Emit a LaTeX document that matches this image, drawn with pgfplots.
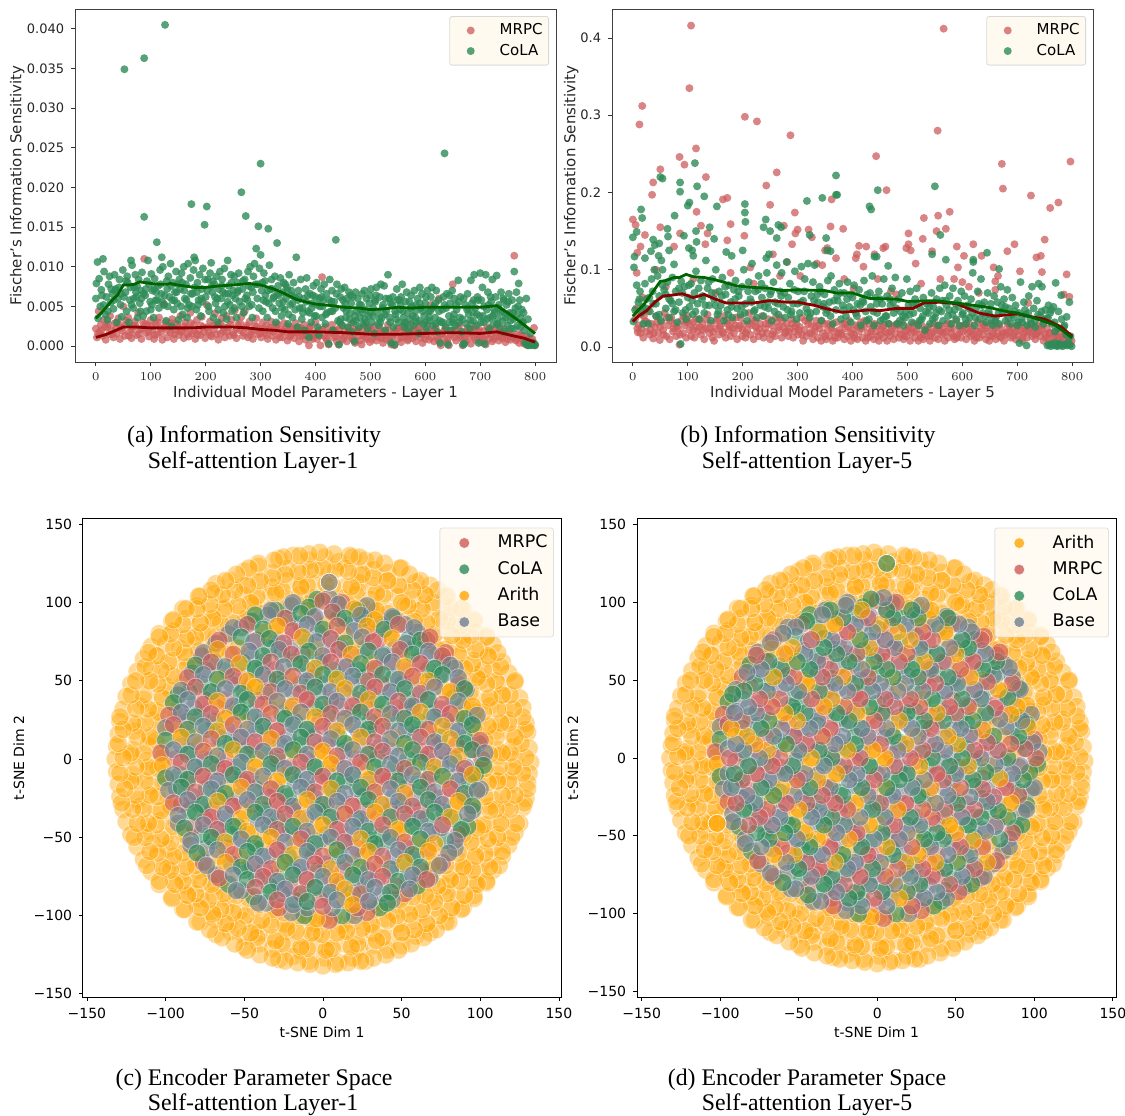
\documentclass[border=0pt]{standalone}
\usepackage{pgfplots}
\usepackage{pgfplotstable}
\usepackage{fontspec}
\pgfplotsset{compat=1.18}
\setmainfont{DejaVu Sans}
\newfontfamily\capfont{Liberation Serif}
\definecolor{mrpc}{HTML}{CD5C5C}
\definecolor{cola}{HTML}{2E8B57}
\definecolor{arith}{HTML}{FFA500}
\definecolor{base}{HTML}{708090}
\definecolor{legbg}{HTML}{FFFAF0}
\definecolor{dkred}{HTML}{8B0000}
\definecolor{dkgreen}{HTML}{006400}
\pgfplotstableread{
x y
0 22
2 11
5 44
7 18
9 27
12 13
15 33
18 8
21 24
24 15
26 38
29 20
32 11
35 29
38 16
41 35
44 9
47 23
50 50
53 13
56 27
59 36
62 18
65 10
68 25
71 31
74 14
77 42
80 21
83 9
86 30
88 110
91 17
94 26
97 12
100 33
103 20
106 9
109 28
112 15
115 36
118 22
121 8
124 53
127 30
130 11
133 25
136 17
139 34
142 9
145 21
148 28
151 14
154 38
157 19
160 10
163 30
166 23
169 12
172 42
175 16
178 27
181 9
184 33
187 20
190 14
193 37
196 24
199 10
202 52
205 18
208 31
211 12
214 26
217 41
220 15
223 8
226 29
229 35
232 19
235 11
238 38
241 24
244 13
247 33
250 17
253 45
256 10
259 27
262 20
265 37
268 13
271 44
274 23
277 11
280 31
283 18
286 9
289 26
292 35
295 15
298 22
301 11
304 30
307 17
310 26
313 9
316 20
319 31
322 13
325 24
328 8
331 28
334 16
337 21
340 11
343 29
346 18
349 7
352 25
355 14
358 22
361 10
364 29
367 17
370 6
373 23
376 13
379 27
382 8
385 19
388 1
391 25
394 11
397 16
400 30
403 9
406 21
409 1
412 87
415 13
418 24
421 7
424 2
427 18
430 27
433 11
436 20
439 6
442 2
445 15
448 26
451 10
454 19
457 6
460 23
463 13
466 28
469 8
472 4
475 17
478 22
481 7
484 2
487 14
490 26
493 9
496 18
499 5
502 21
505 12
508 25
511 7
514 16
517 23
520 10
523 4
526 19
529 13
532 27
535 7
538 2
541 15
544 1
547 22
550 9
553 18
556 5
559 25
562 12
565 20
568 7
571 15
574 28
577 10
580 21
583 6
586 17
589 24
592 11
595 4
598 19
601 14
604 26
607 8
610 52
613 18
616 6
619 23
622 12
625 60
628 1
631 16
634 9
637 22
640 5
643 1
646 14
650 78
653 20
656 7
659 15
662 26
665 10
668 1
671 18
674 6
677 23
680 12
683 3
686 17
689 25
692 8
695 14
698 21
701 5
704 11
707 19
710 2
713 24
716 9
719 15
722 6
725 20
728 12
731 26
734 7
737 17
740 10
743 22
746 5
749 14
752 18
755 8
758 11
762 114
765 7
768 15
771 4
774 10
777 13
780 3
783 8
786 1
789 5
792 2
795 9
798 23
800 1
4 16
10 20
17 24
23 28
30 15
36 22
43 27
49 19
55 32
60 13
66 21
72 26
78 15
84 22
90 28
96 18
101 25
107 14
113 30
119 17
125 24
131 20
137 29
143 15
149 24
155 18
161 25
167 15
173 29
179 19
185 14
191 26
197 18
203 24
209 14
215 21
221 27
227 16
233 24
239 18
245 27
251 14
257 22
263 29
269 17
275 26
281 14
287 20
293 25
299 16
305 22
311 14
317 23
323 18
329 25
335 11
341 19
347 24
353 12
359 17
365 22
371 13
377 20
383 14
389 23
395 9
401 17
407 13
413 21
419 10
425 16
431 20
437 12
443 22
449 8
455 14
461 18
467 10
473 21
479 13
485 19
491 11
497 24
503 8
509 16
515 11
521 18
527 9
533 20
539 12
545 17
551 22
557 11
563 16
569 9
575 19
581 13
587 21
593 15
599 9
605 18
611 11
617 21
623 8
629 15
635 20
641 10
647 19
653 11
659 23
665 13
671 9
677 16
683 21
689 11
695 19
701 13
707 8
713 15
719 21
725 9
731 17
737 12
743 16
749 9
755 15
761 12
767 9
773 14
779 7
785 12
791 9
797 4
}\aM
\pgfplotstableread{
x y
0 60
1 79
3 106
4 35
6 85
8 50
10 71
13 110
15 94
17 40
19 62
21 33
23 78
25 88
27 55
30 66
32 47
34 90
36 72
38 30
40 60
43 84
45 52
47 37
49 96
52 349
54 68
56 44
58 80
60 30
62 58
64 108
66 102
68 48
70 74
72 90
74 62
76 36
78 84
80 54
82 70
84 93
86 38
88 363
88 163
90 64
92 44
95 108
97 78
99 56
101 91
103 70
105 36
107 85
109 58
111 131
113 76
115 48
117 96
119 66
120 112
122 100
124 52
126 405
128 32
130 72
132 88
134 62
136 104
138 25
140 80
142 46
144 68
146 94
148 54
150 33
152 84
154 72
156 92
158 40
160 100
162 60
164 78
166 36
168 104
170 52
172 86
174 179
176 66
178 96
179 112
181 108
183 46
185 80
187 58
189 90
191 38
193 72
195 98
198 153
200 62
202 176
204 84
206 44
208 92
210 105
212 68
214 36
216 78
218 54
220 88
222 30
224 72
226 94
228 60
230 84
232 42
234 98
236 66
238 34
240 108
242 76
244 52
246 90
248 44
250 70
252 88
254 60
256 36
258 80
260 92
262 56
265 194
267 72
269 42
271 84
273 164
275 64
277 94
279 50
281 100
283 74
285 36
287 88
289 104
292 123
294 60
296 151
298 98
300 230
300 115
302 70
304 44
306 92
308 82
310 56
312 36
314 148
316 102
318 72
320 84
322 48
324 62
326 88
328 30
330 130
332 76
334 54
336 86
338 38
340 68
342 80
344 46
346 60
348 74
350 28
352 90
354 52
356 70
358 36
360 80
362 62
365 112
367 24
369 70
371 48
373 84
375 34
378 60
380 20
382 72
384 86
386 44
388 11
390 66
392 30
394 54
396 76
398 38
400 62
402 80
404 24
406 14
408 50
410 72
412 36
414 58
416 78
418 28
420 66
424 3
426 84
428 44
430 70
432 20
434 56
437 134
439 78
441 32
443 2
445 62
447 72
449 26
451 48
453 74
455 36
457 60
459 24
461 68
463 42
465 54
467 18
469 30
471 6
473 68
475 44
477 60
479 24
481 36
483 52
485 66
487 28
489 70
491 46
493 60
495 22
497 38
499 64
501 72
503 30
505 48
507 16
509 56
511 74
513 42
515 26
517 62
519 78
521 36
523 52
525 76
527 20
529 44
532 90
534 60
536 30
538 4
540 52
542 24
544 2
546 40
548 72
550 58
552 30
554 46
556 62
558 78
560 36
562 24
564 56
566 68
568 42
570 20
572 34
574 64
576 50
578 26
580 70
582 44
584 30
586 60
588 16
590 74
592 48
594 66
596 28
598 38
600 54
602 22
604 70
606 44
608 32
610 62
612 74
614 26
616 50
618 36
620 70
622 18
624 58
627 4
629 30
631 46
633 62
635 243
637 24
639 66
641 2
643 38
645 54
647 20
649 70
651 34
653 60
655 26
657 46
660 83
662 30
664 62
666 18
669 2
671 3
673 52
675 28
677 66
679 40
681 22
683 83
685 54
687 32
689 90
691 48
693 26
695 62
697 4
699 38
700 92
702 58
704 74
706 30
708 3
710 90
712 46
714 68
716 22
718 36
720 56
722 84
724 28
726 42
728 62
730 89
732 34
734 52
736 24
738 68
740 44
742 60
744 18
746 36
748 52
750 26
752 66
754 42
756 22
758 58
760 34
762 94
764 48
766 68
768 26
770 79
772 58
774 36
776 46
778 30
780 20
782 4
784 60
785 2
787 34
788 1
790 3
791 16
793 1
795 2
797 4
799 1
800 2
14 52
28 72
33 58
42 74
51 62
57 88
63 74
69 60
75 76
81 44
87 66
93 82
100 46
106 72
112 58
118 78
125 64
131 50
137 76
143 58
149 78
155 50
161 70
167 48
173 66
180 74
186 52
192 60
199 84
205 50
211 76
217 62
223 46
229 76
235 50
241 66
247 80
253 48
259 70
266 50
272 60
278 76
284 52
291 78
297 48
303 80
309 64
315 54
321 72
327 44
333 64
339 48
345 78
351 40
357 64
363 46
370 62
376 48
383 56
389 42
395 64
401 38
407 60
413 50
419 40
425 58
431 44
438 66
444 30
450 58
456 44
462 34
468 62
474 32
480 52
486 42
492 30
498 54
504 38
510 64
516 34
522 48
528 60
535 36
541 62
547 34
553 58
559 44
565 28
571 56
577 38
583 52
589 32
595 44
601 62
607 36
613 48
619 28
625 44
632 30
638 48
644 64
650 30
656 52
663 36
670 60
676 46
682 32
688 58
694 40
701 30
707 50
713 34
719 62
725 46
731 28
737 42
743 58
749 40
755 32
761 22
767 40
773 24
779 42
11 64
22 44
35 70
46 66
55 82
65 52
73 68
83 60
91 72
102 52
110 68
121 56
129 82
139 58
147 68
157 80
165 58
175 50
184 68
194 56
203 70
213 82
221 60
231 68
240 56
249 64
258 68
268 82
276 58
286 68
295 78
305 58
313 70
323 60
331 66
341 56
349 70
358 54
368 58
377 42
386 64
393 48
403 52
411 62
421 42
429 56
436 48
446 34
454 54
464 64
472 38
482 46
490 34
500 42
508 58
518 30
526 40
537 54
545 44
555 52
563 30
573 48
582 36
590 54
600 30
609 44
618 54
626 32
635 52
644 30
652 40
661 56
668 34
678 48
687 42
696 58
705 38
715 52
723 38
733 48
741 32
751 56
760 42
769 50
777 30
}\aC
\pgfplotstableread{
x y
0 165
5 158
8 122
12 288
14 130
17 312
22 145
35 197
37 213
50 230
50 155
85 246
94 236
86 147
103 335
106 416
115 257
116 175
124 157
132 133
133 220
136 147
164 191
172 193
172 138
178 159
204 298
203 144
226 292
243 209
250 184
262 226
275 157
287 274
295 174
296 147
300 152
290 133
320 152
326 142
362 191
360 156
383 153
370 115
350 125
354 128
412 131
408 120
406 115
425 130
443 247
462 203
460 130
456 128
440 120
498 128
502 147
502 133
506 125
530 167
555 280
556 170
553 150
566 412
570 153
577 175
528 140
590 130
592 103
603 118
620 133
635 118
657 103
672 237
674 205
682 124
695 133
705 98
725 196
735 116
743 118
750 139
760 180
745 97
775 187
790 94
797 240
785 68
795 65
720 57
660 85
665 92
600 84
7 96
18 64
42 100
60 78
75 130
110 88
150 70
178 96
214 103
220 82
255 120
268 92
281 110
305 92
335 108
345 106
385 88
402 76
420 104
446 88
470 72
480 68
515 108
525 82
545 124
560 88
585 88
612 78
630 70
660 74
4 36
6 50
9 19
11 28
13 42
16 24
19 12
22 34
25 20
28 46
31 16
34 30
37 11
40 26
43 40
46 18
49 9
52 32
55 22
58 44
61 14
64 28
67 10
70 38
73 20
76 30
79 14
82 24
85 3
88 34
91 18
94 28
97 12
100 40
103 22
106 14
109 32
112 12
115 26
118 20
121 36
124 16
127 30
130 10
133 24
136 42
139 18
142 30
145 12
148 8
151 24
154 36
157 16
160 28
163 20
166 40
169 12
172 30
175 22
178 14
181 34
184 18
187 28
190 10
193 24
196 38
199 14
202 30
205 12
208 22
211 44
214 16
217 28
220 10
223 34
226 20
229 14
232 30
235 40
238 12
241 24
244 18
247 36
250 10
253 28
256 20
259 14
262 32
265 22
268 38
271 12
274 26
277 18
280 30
283 14
286 24
289 36
292 12
295 20
298 30
301 16
304 26
307 38
310 8
313 22
316 14
319 30
322 18
325 28
328 10
331 20
334 34
337 12
340 24
343 8
346 18
349 30
352 10
355 22
358 14
361 28
364 8
367 20
370 32
373 12
376 22
379 16
382 30
385 10
388 24
391 14
394 34
397 8
400 22
403 16
406 28
409 10
412 20
415 32
418 12
421 26
424 8
427 18
430 30
433 14
436 24
439 10
442 20
445 28
448 8
451 16
454 26
457 12
460 20
463 8
466 30
469 14
472 24
475 10
478 18
481 28
484 12
487 22
490 32
493 10
496 20
499 14
502 26
505 8
508 18
511 30
514 12
517 22
520 8
523 16
526 28
529 10
532 20
535 14
538 26
541 8
544 18
547 30
550 12
553 22
556 10
559 28
562 16
565 24
568 8
571 20
574 12
577 30
580 18
583 24
586 10
589 34
592 16
595 26
598 12
601 20
604 28
607 10
610 18
613 30
616 14
619 24
622 8
625 20
628 32
631 12
634 24
637 16
640 28
643 10
646 20
649 8
652 30
655 14
658 24
661 10
664 18
667 28
670 12
673 22
676 8
679 16
682 30
685 20
688 12
691 24
694 18
697 10
700 28
703 14
706 22
709 8
712 18
715 26
718 12
721 20
724 30
727 14
730 24
733 10
736 18
739 28
742 14
745 22
748 8
751 16
754 24
757 10
760 18
763 6
766 14
769 22
772 8
775 12
778 20
781 6
784 10
787 16
790 4
793 12
796 3
799 8
8 24
20 40
32 22
44 32
56 16
68 34
80 26
92 40
104 30
116 36
128 22
140 24
152 34
164 18
176 26
188 38
200 22
212 30
224 26
236 18
248 30
260 38
272 34
284 20
296 26
308 16
320 36
332 26
344 34
356 30
368 12
380 18
392 26
404 12
416 24
428 12
440 30
452 22
464 18
476 28
488 16
500 22
512 20
524 12
536 22
548 20
560 20
572 30
584 14
596 20
608 24
620 16
632 20
644 24
656 18
668 14
680 18
692 14
704 26
716 20
728 18
740 20
752 12
14 18
26 32
38 18
50 26
62 38
74 24
86 16
98 32
110 22
122 26
134 36
146 20
158 26
170 34
182 24
194 28
206 18
218 36
230 24
242 30
254 16
266 26
278 20
290 30
302 22
314 34
326 18
338 28
350 14
362 24
374 18
386 30
398 18
410 26
422 34
434 20
446 14
458 28
470 20
482 30
494 14
506 24
518 30
530 16
542 14
554 28
566 18
578 24
590 12
602 28
614 20
626 12
638 30
650 14
662 26
674 18
686 26
698 20
710 12
722 24
734 16
746 28
758 18
770 14
782 14
794 8
}\bM
\pgfplotstableread{
x y
0 142
2 103
3 117
7 149
15 178
17 167
22 115
37 139
40 132
33 124
47 118
48 134
50 220
54 218
52 112
63 153
64 143
66 125
75 107
76 170
86 213
86 201
93 144
100 183
103 187
102 128
108 125
110 118
113 238
115 150
116 136
117 208
130 195
140 155
148 140
153 182
170 123
180 118
200 125
204 185
204 174
205 162
242 165
238 155
250 150
243 115
248 120
262 141
265 158
270 155
317 189
345 193
322 145
352 141
354 125
360 124
370 222
370 197
372 197
431 182
434 178
440 117
444 117
446 203
465 105
550 208
560 145
545 120
570 113
620 113
645 122
667 101
620 110
770 83
780 67
795 58
790 39
87 4
704 5
717 2
1 33
4 48
7 80
10 58
13 72
16 44
19 30
22 82
25 62
28 30
31 46
34 88
37 56
39 100
42 40
45 92
48 66
51 34
54 100
57 74
60 50
63 84
66 38
69 60
72 90
75 46
78 72
81 32
84 58
88 85
91 44
94 78
97 36
100 64
103 52
106 82
109 42
112 70
115 98
118 56
121 36
124 86
127 66
130 44
133 112
136 76
139 54
142 34
145 88
148 62
151 100
154 42
157 72
160 54
163 90
166 34
169 68
172 48
175 80
178 58
181 38
184 74
187 86
190 50
193 66
196 42
199 78
202 100
205 56
208 34
211 84
214 62
217 108
220 46
223 72
226 38
229 92
232 54
235 64
238 40
241 76
244 96
247 50
250 68
253 34
256 84
259 58
262 106
265 42
268 72
271 96
274 52
277 38
280 110
283 64
286 82
289 46
292 56
295 98
298 36
301 72
304 44
307 104
310 60
313 88
316 50
319 108
322 38
325 66
328 84
331 106
334 46
337 58
340 78
343 34
346 52
349 68
352 44
355 86
358 58
361 92
364 30
367 74
370 48
373 60
376 82
379 36
382 54
385 70
388 40
391 84
394 52
397 32
400 64
403 80
406 44
409 56
412 74
415 28
418 60
421 86
424 46
427 68
430 36
433 52
436 92
439 28
442 64
445 44
448 72
451 34
454 56
457 88
460 40
463 66
466 30
469 54
472 76
475 44
478 90
481 30
484 62
487 46
490 70
493 28
496 38
499 88
502 54
505 72
508 32
511 44
514 62
517 76
520 28
523 50
526 36
529 64
532 22
535 56
538 44
541 30
544 70
547 52
550 38
553 62
556 28
559 76
562 46
565 34
568 80
571 54
574 40
577 66
580 30
583 76
586 48
589 36
592 60
595 28
598 72
601 44
604 66
607 30
610 54
613 38
616 62
619 96
622 28
625 50
628 72
631 36
634 88
637 44
640 58
643 32
646 70
649 42
652 56
655 28
658 66
661 38
664 58
667 30
670 78
673 46
676 62
679 34
682 74
685 50
688 30
691 64
694 38
697 54
700 28
703 44
706 84
709 32
712 58
715 42
718 28
721 66
724 36
727 78
730 50
733 26
736 60
739 82
742 40
745 78
748 30
751 48
754 36
757 54
760 44
763 30
766 52
769 20
772 2
775 46
778 4
781 36
783 1
785 26
787 3
789 16
791 2
793 6
795 3
797 14
799 1
755 2
758 3
761 1
764 4
767 2
770 5
773 1
776 3
779 2
12 62
24 50
36 72
48 42
60 68
72 56
84 76
96 48
108 60
120 76
132 54
144 70
156 46
168 78
180 52
192 72
204 44
216 58
228 74
240 52
252 72
264 56
276 70
288 42
300 56
312 72
324 44
336 68
348 56
360 40
372 66
384 48
396 68
408 40
420 58
432 70
444 56
456 36
468 62
480 50
492 40
504 42
516 56
528 40
540 52
552 44
564 60
576 48
588 56
600 42
612 50
624 38
636 54
648 46
660 34
672 54
684 38
696 46
708 36
720 44
732 34
744 46
756 38
768 32
18 52
30 64
42 56
54 80
66 62
78 48
90 70
102 80
114 46
126 62
138 84
150 54
162 66
174 42
186 62
198 52
210 72
222 48
234 82
246 58
258 46
270 66
282 48
294 74
306 58
318 44
330 60
342 72
354 48
366 60
378 70
390 62
402 48
414 54
426 34
438 46
450 62
462 40
474 58
486 34
498 46
510 56
522 34
534 46
546 36
558 48
570 60
582 42
594 52
606 36
618 44
630 56
642 40
654 34
666 44
678 52
690 42
702 32
714 48
726 30
738 42
750 36
762 48
774 24
786 28
}\bC
\pgfplotstableread{
x y
-28 128
-19 130
-9 127
1 129
10 126
19 129
27 127
-50 120
-41 123
-32 119
-23 122
-14 118
-5 121
4 119
14 122
23 118
32 121
41 119
50 122
-68 112
-59 114
-50 111
-41 113
-32 110
-23 114
-14 111
-5 112
4 114
14 110
23 113
32 111
41 114
50 110
59 113
68 111
-78 104
-69 106
-60 103
-51 105
-42 102
-33 106
-24 103
-15 105
-6 103
3 106
12 103
21 105
30 102
39 106
48 104
57 102
66 105
78 104
-89 96
-80 98
-71 95
-62 97
-53 94
-44 98
-31 96
30 97
43 94
52 98
61 95
70 97
79 94
89 96
-96 88
-87 90
-78 87
-69 89
-60 86
-48 89
49 88
58 90
67 86
76 89
85 87
96 88
-104 80
-95 82
-86 79
-77 81
-68 78
-60 81
61 80
70 78
79 82
88 79
97 81
104 79
-109 72
-100 74
-91 71
-81 73
-71 70
70 73
80 71
90 74
100 70
108 73
-114 64
-105 66
-96 63
-87 65
-78 62
78 64
87 66
96 63
105 65
114 62
-118 56
-109 58
-99 55
-88 57
88 58
98 54
108 57
118 55
-122 48
-111 50
-100 47
-90 49
89 47
100 50
111 48
122 49
-125 40
-114 38
-103 41
-93 39
93 41
104 38
114 41
125 39
-127 32
-116 34
-106 31
-96 33
96 31
106 34
116 32
127 33
-129 24
-118 22
-108 25
-98 23
98 25
108 22
118 25
129 23
-130 16
-120 18
-110 15
-100 17
100 15
110 18
120 16
130 17
-131 8
-121 6
-111 9
-101 7
101 9
111 6
121 8
131 7
-132 0
-122 2
-112 -1
-102 1
102 -1
112 2
122 0
132 -2
-131 -8
-121 -10
-111 -7
-101 -9
101 -7
111 -10
121 -8
131 -9
-130 -16
-120 -14
-110 -17
-100 -15
100 -17
110 -14
120 -16
130 -15
-129 -24
-118 -26
-108 -23
-98 -25
98 -23
108 -26
118 -24
129 -25
-127 -32
-116 -30
-106 -33
-96 -31
96 -33
106 -30
116 -32
127 -31
-125 -40
-114 -42
-103 -39
-93 -41
93 -39
104 -42
114 -40
125 -41
-122 -48
-111 -46
-100 -49
-89 -47
90 -49
100 -46
111 -48
122 -47
-118 -56
-108 -54
-98 -57
-87 -55
87 -57
98 -54
108 -56
118 -55
-114 -64
-105 -62
-96 -65
-86 -63
-77 -65
77 -62
87 -65
96 -63
105 -64
114 -62
-109 -72
-99 -70
-90 -73
-80 -71
-70 -73
70 -71
80 -73
90 -70
99 -72
108 -71
-104 -80
-95 -78
-86 -81
-77 -79
-68 -81
-60 -78
60 -81
69 -79
78 -81
87 -78
96 -80
104 -79
-96 -88
-87 -86
-78 -89
-69 -87
-60 -89
-49 -87
48 -89
59 -86
68 -88
77 -87
86 -89
96 -87
-89 -96
-80 -94
-71 -97
-62 -95
-53 -97
-43 -95
-30 -97
31 -95
44 -97
53 -95
62 -98
71 -95
80 -97
89 -95
-78 -104
-69 -102
-60 -105
-51 -103
-42 -106
-33 -103
-24 -105
-15 -102
-6 -105
3 -103
12 -106
21 -103
30 -105
39 -102
48 -105
57 -103
66 -106
78 -104
-68 -112
-59 -110
-50 -113
-41 -111
-32 -114
-23 -110
-14 -113
-5 -111
4 -114
14 -110
23 -113
32 -111
41 -114
50 -110
59 -113
68 -111
-50 -120
-41 -118
-32 -121
-23 -119
-14 -122
-5 -119
4 -122
14 -118
23 -121
32 -119
41 -122
50 -119
-28 -128
-19 -126
-9 -129
1 -127
10 -130
19 -127
27 -129
}\ring
\pgfplotstableread{
x y c
-19 100 d
-9 97 b
0 101 a
10 99 d
20 96 c
-43 92 b
-33 95 d
-24 90 a
-14 93 b
-5 91 d
6 94 a
14 90 b
24 92 d
33 89 c
44 91 d
-57 84 d
-48 86 a
-38 83 b
-29 85 c
-19 82 a
-10 86 d
0 83 b
9 85 a
20 82 d
28 85 c
39 83 b
48 86 a
58 84 d
-66 76 a
-52 78 b
-44 75 d
-34 77 b
-25 74 a
-13 78 c
-4 75 d
5 77 a
14 74 b
25 78 d
32 75 a
44 77 c
53 74 d
62 76 b
68 78 a
-76 68 d
-67 70 c
-57 67 a
-47 69 d
-38 66 b
-28 70 d
-20 67 a
-9 69 b
0 66 d
10 70 a
18 67 c
29 69 b
38 66 d
49 70 a
57 67 b
67 69 d
76 66 a
-81 60 b
-71 62 a
-62 59 d
-53 61 c
-43 58 b
-33 62 a
-25 59 d
-14 61 b
-5 58 c
5 62 a
15 59 d
24 61 b
33 58 a
44 62 d
52 59 c
62 61 a
71 58 b
81 60 d
-86 52 a
-76 54 d
-67 51 b
-57 53 a
-48 50 c
-38 54 d
-29 51 b
-19 53 a
-10 50 d
0 54 b
9 51 c
19 53 d
29 50 a
38 54 b
48 51 d
57 53 a
67 50 c
76 54 b
86 52 d
-90 44 d
-81 46 a
-71 43 b
-62 45 d
-52 42 b
-43 46 c
-33 43 a
-24 45 d
-14 42 a
-5 46 b
5 43 d
14 45 c
24 42 b
33 46 a
43 43 d
52 45 b
62 42 a
71 46 d
81 43 c
90 45 b
-95 36 b
-86 38 d
-76 35 a
-67 37 c
-57 34 d
-48 38 b
-38 35 a
-29 37 d
-19 34 c
-10 38 a
0 35 b
9 37 d
19 34 a
29 38 c
38 35 b
48 37 a
57 34 d
67 38 b
76 35 a
86 37 d
95 34 c
-98 28 a
-90 30 d
-81 27 b
-71 29 a
-62 26 c
-52 30 b
-43 27 d
-33 29 a
-24 26 b
-14 30 d
-5 27 c
5 29 a
14 26 d
24 30 b
33 27 a
43 29 d
52 26 b
62 30 c
71 27 d
81 29 a
90 26 b
98 28 d
-100 20 d
-95 22 a
-86 19 b
-76 21 d
-67 18 c
-57 22 a
-48 19 d
-38 21 b
-29 18 a
-19 22 d
-10 19 b
0 21 a
9 18 c
19 22 d
29 19 b
38 21 a
48 18 d
57 22 b
67 19 a
76 21 c
86 18 d
95 22 b
-100 12 b
-90 14 c
-81 11 d
-71 13 a
-62 10 b
-52 14 d
-43 11 a
-33 13 c
-24 10 d
-14 14 b
-5 11 a
5 13 d
14 10 b
24 14 c
33 11 a
43 13 d
52 10 b
62 14 a
71 11 d
81 13 c
90 10 b
100 12 a
-103 4 a
-95 6 d
-86 3 b
-76 5 a
-67 2 d
-57 6 c
-48 3 b
-38 5 d
-29 2 a
-19 6 b
-10 3 d
0 5 c
9 2 a
19 6 d
29 3 b
38 5 a
48 2 d
57 6 b
67 3 a
76 5 d
86 2 c
95 6 b
103 4 d
-102 -4 c
-90 -2 a
-81 -5 d
-71 -3 b
-62 -6 a
-52 -2 d
-43 -5 c
-33 -3 b
-24 -6 d
-14 -2 a
-5 -5 b
5 -3 c
14 -6 d
24 -2 a
33 -5 b
43 -3 d
52 -6 a
62 -2 b
71 -5 c
81 -3 d
90 -6 a
102 -4 b
-100 -12 b
-95 -10 d
-86 -13 b
-76 -11 a
-67 -14 d
-57 -10 b
-48 -13 a
-38 -11 d
-29 -14 c
-19 -10 b
-10 -13 d
0 -11 a
9 -14 b
19 -10 d
29 -13 c
38 -11 a
48 -14 b
57 -10 d
67 -13 a
76 -11 b
86 -14 d
95 -10 c
-98 -20 d
-90 -18 b
-81 -21 a
-71 -19 d
-62 -22 b
-52 -18 c
-43 -21 d
-33 -19 a
-24 -22 b
-14 -18 d
-5 -21 a
5 -19 c
14 -22 d
24 -18 b
33 -21 a
43 -19 d
52 -22 c
62 -18 b
71 -21 d
81 -19 a
90 -22 b
98 -20 d
-95 -28 a
-86 -26 d
-76 -29 b
-67 -27 c
-57 -30 a
-48 -26 d
-38 -29 b
-29 -27 a
-19 -30 d
-10 -26 c
0 -29 b
9 -27 d
19 -30 a
29 -26 b
38 -29 c
48 -27 d
57 -30 a
67 -26 b
76 -29 d
86 -27 c
95 -30 b
-92 -36 d
-81 -34 b
-71 -37 a
-62 -35 d
-52 -38 c
-43 -34 b
-33 -37 d
-24 -35 a
-14 -38 c
-5 -34 d
5 -37 b
14 -35 a
24 -38 d
33 -34 c
43 -37 b
52 -35 a
62 -38 d
71 -34 b
81 -37 c
92 -35 d
-88 -44 b
-76 -42 d
-67 -45 a
-57 -43 b
-48 -46 c
-38 -42 d
-29 -45 a
-19 -43 b
-10 -46 d
0 -42 c
9 -45 a
19 -43 d
29 -46 b
38 -42 a
48 -45 c
57 -43 b
67 -46 d
76 -42 a
88 -45 b
-84 -52 d
-71 -50 b
-62 -53 c
-52 -51 d
-43 -54 b
-33 -50 c
-24 -53 d
-14 -51 a
-5 -54 b
5 -50 d
14 -53 a
24 -51 c
33 -54 b
43 -50 d
52 -53 a
62 -51 b
71 -54 c
84 -52 d
-80 -60 b
-67 -58 d
-57 -61 a
-48 -59 b
-38 -62 d
-29 -58 a
-19 -61 c
-10 -59 d
0 -62 a
9 -58 b
19 -61 d
29 -59 c
38 -62 a
48 -58 d
57 -61 b
67 -59 c
80 -60 d
-74 -68 d
-62 -66 c
-52 -69 b
-43 -67 d
-33 -70 a
-24 -66 b
-14 -69 d
-5 -67 a
5 -70 c
14 -66 d
24 -69 b
33 -67 a
43 -70 d
52 -66 c
62 -69 b
74 -68 d
-66 -76 a
-57 -74 d
-48 -77 b
-38 -75 a
-29 -78 d
-19 -74 b
-10 -77 a
0 -75 d
9 -78 c
19 -74 b
29 -77 d
38 -75 a
48 -78 b
57 -74 d
66 -77 a
-55 -84 d
-43 -82 a
-33 -85 b
-24 -83 d
-14 -86 a
-5 -82 b
5 -85 d
14 -83 c
24 -86 a
33 -82 d
43 -85 b
55 -83 d
-41 -92 d
-29 -90 a
-19 -93 d
-10 -91 b
0 -94 a
9 -90 d
19 -93 c
29 -91 d
41 -92 b
}\inner
\pgfplotsset{
  common/.style={
    scale only axis,
    axis line style={line width=.45pt,color=black!75},
    tick style={line width=.4pt,color=black!80},
    major tick length=1.9pt,
    tick align=outside,
    xtick pos=bottom, ytick pos=left,
    tick label style={font=\fontsize{6.5}{7}\selectfont,color=black!85},
    legend cell align=left,
    clip=true,
  },
  toppanel/.style={
    common, anchor=south west, width=240.5pt, height=176.5pt,
    xmin=-38, xmax=838, xtick={0,100,...,800},
    every axis x label/.style={at={(axis description cs:0.5,-0.088)},anchor=center,font=\fontsize{7.5}{8}\selectfont,color=black!85},
    legend style={at={(0.9855,0.98)},anchor=north east,font=\fontsize{7.5}{9}\selectfont,
      fill=legbg,draw=black!15,rounded corners=1.2pt,inner xsep=8.5pt,inner ysep=1.5pt,row sep=-.8pt,line width=.4pt},
  },
  overlay/.style={scale only axis,hide axis,anchor=south west,width=240.5pt,height=176.5pt,xmin=-38,xmax=838},
  lowpanel/.style={
    common, anchor=south west, height=239pt,
    xtick={-150,-100,...,150}, ytick={-150,-100,...,150},
    xticklabels={−150,−100,−50,0,50,100,150},
    yticklabels={−150,−100,−50,0,50,100,150},
    tick label style={font=\fontsize{7}{8}\selectfont,color=black},
    axis line style={line width=.5pt,color=black},
    tick style={line width=.4pt,color=black},
    xlabel={t-SNE Dim 1}, ylabel={t-SNE Dim 2},
    every axis x label/.style={at={(axis description cs:0.5,-0.073)},anchor=center,font=\fontsize{7}{8}\selectfont},
    every axis y label/.style={at={(axis description cs:-0.134,0.5)},rotate=90,anchor=center,font=\fontsize{7}{8}\selectfont},
    legend style={at={(0.985,0.982)},anchor=north east,font=\fontsize{8.7}{10}\selectfont,
      fill=legbg,fill opacity=.8,draw opacity=.8,text opacity=1,draw=black!15,rounded corners=1.2pt,inner xsep=9.5pt,inner ysep=1.5pt,row sep=1.2pt,line width=.4pt},
  },
  toplabel/.style={every axis y label/.style={at={(axis description cs:#1,0.5)},rotate=90,anchor=center,font=\fontsize{7.5}{8}\selectfont,color=black!85}},
  dotsM/.style={only marks,mark=*,mark size=2pt,color=mrpc,mark options={solid,fill=mrpc,fill opacity=.75,draw opacity=0}},
  dotsC/.style={only marks,mark=*,mark size=2pt,color=cola,mark options={solid,fill=cola,fill opacity=.8,draw opacity=0}},
  trend/.style={color=#1,line width=1.4pt,no marks,forget plot},
  ringdots/.style={only marks,mark=*,mark size=4.6pt,forget plot,color=arith,mark options={solid,draw=white,line width=.35pt,draw opacity=.55,fill=arith,fill opacity=.42}},
  innerdots/.style={scatter,only marks,mark=*,mark size=4.5pt,forget plot,scatter src=explicit symbolic,
    scatter/classes={
      a={mark=*,draw=white,line width=.35pt,draw opacity=.5,fill=mrpc,fill opacity=.6},
      b={mark=*,draw=white,line width=.35pt,draw opacity=.5,fill=cola,fill opacity=.6},
      c={mark=*,draw=white,line width=.35pt,draw opacity=.5,fill=arith,fill opacity=.6},
      d={mark=*,draw=white,line width=.35pt,draw opacity=.5,fill=base,fill opacity=.6}}},
  legdot/.style={only marks,mark=*,mark size=2.7pt,color=#1,mark options={solid,draw=white,line width=.3pt,fill=#1}},
}
\newcommand{\lgA}[1]{\hspace{10.5pt}#1\kern-7.5pt}
\newcommand{\lgB}[1]{\hspace{12pt}#1\kern-8.5pt}
\begin{document}
\begin{tikzpicture}
\useasboundingbox (0,0) rectangle (562.5pt,557.5pt);
% ---------- (a)
\begin{axis}[toppanel, at={(37.5pt,376.5pt)}, toplabel=-0.12,
  ymin=-20, ymax=425, ytick={0,50,...,400},
  yticklabels={0.000,0.005,0.010,0.015,0.020,0.025,0.030,0.035,0.040},
  xlabel={Individual Model Parameters - Layer 1}, ylabel={Fischer's Information Sensitivity}]
\addplot[dotsM] table[x=x,y=y]{\aM};
\addlegendentry{\lgA{MRPC}}
\addplot[dotsC] table[x=x,y=y]{\aC};
\addlegendentry{\lgA{CoLA}}
\end{axis}
\begin{axis}[overlay, at={(37.5pt,376.5pt)}, ymin=-20, ymax=425]
\addplot[trend=dkred] coordinates {(0,11)(10,13)(20,15)(30,18)(40,21)(50,24)(75,24)(100,23)(125,23)(150,23)(175,23)(200,24)(225,24)(250,24)(275,23)(300,21)(325,20)(350,18)(375,18)(400,18)(450,17)(500,15)(550,15)(600,16)(650,17)(700,16)(730,18)(760,13)(780,10)(800,5)};
\addplot[trend=dkgreen] coordinates {(0,35)(10,42)(20,50)(30,58)(40,65)(50,77)(60,77)(70,78)(80,81)(100,79)(115,78)(130,78)(135,79)(150,77)(180,74)(200,74)(225,76)(250,77)(280,79)(300,77)(320,73)(335,69)(350,64)(365,59)(380,56)(400,53)(430,51)(450,49)(480,48)(500,46)(525,47)(550,49)(575,48)(600,49)(650,49)(700,49)(730,51)(750,42)(770,32)(785,24)(800,16)};
\end{axis}
% ---------- (b)
\begin{axis}[toppanel, at={(306pt,376.5pt)}, toplabel=-0.085,
  ymin=-19.4, ymax=437.5, ytick={0,100,...,400},
  yticklabels={0.0,0.1,0.2,0.3,0.4},
  xlabel={Individual Model Parameters - Layer 5}, ylabel={Fischer's Information Sensitivity}]
\addplot[dotsM] table[x=x,y=y]{\bM};
\addlegendentry{\lgA{MRPC}}
\addplot[dotsC] table[x=x,y=y]{\bC};
\addlegendentry{\lgA{CoLA}}
\end{axis}
\begin{axis}[overlay, at={(306pt,376.5pt)}, ymin=-19.4, ymax=437.5]
\addplot[trend=dkred] coordinates {(0,33)(10,40)(25,47)(40,58)(55,66)(70,67)(90,69)(110,64)(130,68)(150,62)(170,57)(200,57)(220,57)(250,60)(280,58)(300,58)(330,54)(350,50)(380,45)(400,46)(430,48)(450,47)(480,50)(510,50)(530,57)(560,58)(590,56)(610,50)(630,44)(660,40)(700,43)(720,40)(750,36)(780,26)(800,14)};
\addplot[trend=dkgreen] coordinates {(0,40)(10,48)(20,55)(30,65)(40,75)(50,85)(60,86)(75,90)(85,90)(97,94)(110,91)(130,90)(150,87)(170,83)(190,79)(220,77)(250,76)(270,73)(300,74)(350,73)(370,70)(400,70)(430,63)(480,62)(500,59)(550,60)(600,56)(650,51)(680,46)(700,44)(720,40)(750,33)(770,28)(800,12)};
\end{axis}
% ---------- (c)
\begin{axis}[lowpanel, at={(41.5pt,59pt)}, width=239pt,
  xmin=-152.5, xmax=151.3, ymin=-152, ymax=153.4]
\addplot[ringdots] table[x=x,y=y]{\ring};
\addplot[ringdots] table[x=y,y=x]{\ring};
\addplot[innerdots] table[x=y,y=x,meta=c]{\inner};
\addplot[innerdots] table[x=x,y=y,meta=c]{\inner};
\addplot[only marks,mark=*,mark size=4.5pt,forget plot,color=base,mark options={solid,draw=white,line width=.35pt,fill=base,fill opacity=.6}] coordinates {(4,113)};
\addlegendimage{legdot=mrpc}
\addlegendentry{\lgB{MRPC}}
\addlegendimage{legdot=cola}
\addlegendentry{\lgB{CoLA}}
\addlegendimage{legdot=arith}
\addlegendentry{\lgB{Arith}}
\addlegendimage{legdot=base}
\addlegendentry{\lgB{Base}}
\end{axis}
% ---------- (d)
\begin{axis}[lowpanel, at={(318.5pt,59pt)}, width=239.5pt,
  xmin=-153, xmax=152, ymin=-153.5, ymax=153.5]
\addplot[ringdots] table[x=x,y=y]{\ring};
\addplot[ringdots] table[x=y,y=x]{\ring};
\addplot[innerdots] table[x=x,y=y,meta=c]{\inner};
\addplot[innerdots] table[x=y,y=x,meta=c]{\inner};
\addplot[only marks,mark=*,mark size=4.5pt,forget plot,color=cola,mark options={solid,draw=white,line width=.35pt,fill=cola,fill opacity=.6}] coordinates {(6,125)};
\addplot[only marks,mark=*,mark size=4.5pt,forget plot,color=arith,mark options={solid,draw=white,line width=.35pt,fill=arith,fill opacity=.75}] coordinates {(-102,-42)};
\addlegendimage{legdot=arith}
\addlegendentry{\lgB{Arith}}
\addlegendimage{legdot=mrpc}
\addlegendentry{\lgB{MRPC}}
\addlegendimage{legdot=cola}
\addlegendentry{\lgB{CoLA}}
\addlegendimage{legdot=base}
\addlegendentry{\lgB{Base}}
\end{axis}
% ---------- captions
\begin{scope}[every node/.style={font=\capfont\fontsize{11.9}{13}\selectfont,anchor=center,inner sep=0pt,text=black}]
\node at (127pt,339pt) {(a) Information Sensitivity};
\node at (126.5pt,326pt) {Self-attention Layer-1};
\node at (404pt,339pt) {(b) Information Sensitivity};
\node at (403.5pt,326pt) {Self-attention Layer-5};
\node at (127pt,17.5pt) {(c) Encoder Parameter Space};
\node at (126.5pt,5pt) {Self-attention Layer-1};
\node at (403.5pt,17.5pt) {(d) Encoder Parameter Space};
\node at (403.5pt,5pt) {Self-attention Layer-5};
\end{scope}
\end{tikzpicture}
\end{document}
